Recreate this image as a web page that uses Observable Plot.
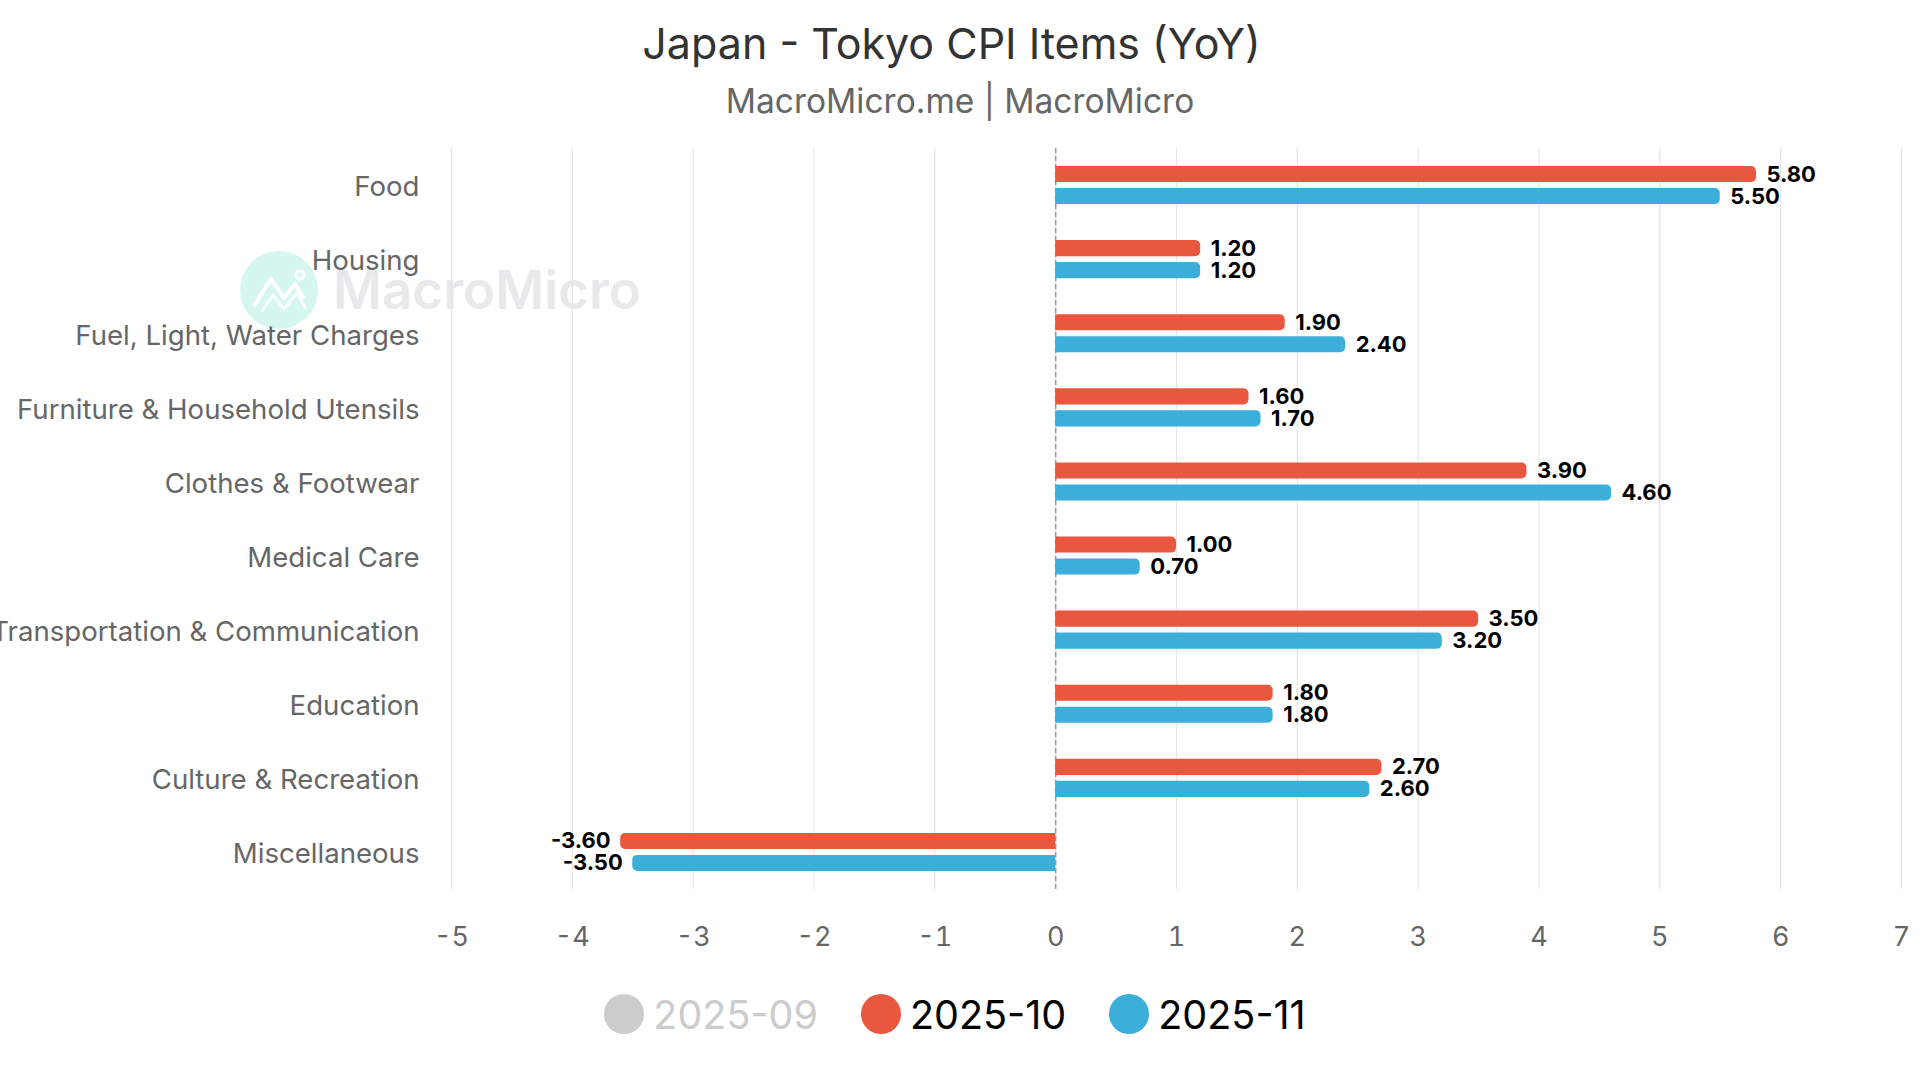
<!DOCTYPE html>
<html>
<head>
<meta charset="utf-8">
<script src="https://cdn.jsdelivr.net/npm/d3@7"></script>
<script src="https://cdn.jsdelivr.net/npm/@observablehq/plot@0.6"></script>
<style>
  html, body { margin: 0; padding: 0; background: #fff; }
  body { width: 1920px; height: 1080px; overflow: hidden; position: relative; font-family: Inter, "Noto Sans", sans-serif; }
  #title { position: absolute; left: 0; width: 1903px; top: 22px; text-align: center; font-size: 43px; line-height: 1; color: #333; }
  #subtitle { position: absolute; left: 0; width: 1920px; top: 85px; text-align: center; font-size: 33.5px; line-height: 1; color: #666; }
  #wm { position: absolute; left: 240px; top: 250px; height: 80px; display: flex; align-items: center; z-index: 0; }
  #wm .logo { width: 78px; height: 78px; border-radius: 50%; background: #d6f7ef; position: relative; }
  #wm .logo svg { position: absolute; left: 0; top: 0; }
  #wm .txt { margin-left: 15px; font-size: 53px; font-weight: 600; color: #e8e9eb; line-height: 1; }
  #chart { position: absolute; left: 0; top: 130px; z-index: 1; }
  #legend { position: absolute; left: 0; width: 1910px; top: 996px; display: flex; justify-content: center; gap: 43px; font-size: 39.5px; line-height: 1; }
  #legend .item { display: flex; align-items: center; }
  #legend .dot { width: 40px; height: 40px; border-radius: 50%; margin-right: 9px; position: relative; top: -2px; }
</style>
</head>
<body>
<div id="title">Japan - Tokyo CPI Items (YoY)</div>
<div id="subtitle">MacroMicro.me | MacroMicro</div>
<div id="wm"><div class="logo"><svg width="78" height="78" viewBox="0 0 78 78"><polyline points="14,55 31,28 44,47 55,33 64,48" fill="none" stroke="#fff" stroke-width="4" stroke-linejoin="round"/><polyline points="22,60 33,44 44,58 57,42 66,58" fill="none" stroke="#fff" stroke-width="3" stroke-linejoin="round" opacity="0.8"/><circle cx="60" cy="24" r="4" fill="none" stroke="#fff" stroke-width="3"/></svg></div><div class="txt">MacroMicro</div></div>
<div id="chart"></div>
<div id="legend"></div>
<script>
const categories = [
  "Food",
  "Housing",
  "Fuel, Light, Water Charges",
  "Furniture & Household Utensils",
  "Clothes & Footwear",
  "Medical Care",
  "Transportation & Communication",
  "Education",
  "Culture & Recreation",
  "Miscellaneous"
];
const series = ["2025-09", "2025-10", "2025-11"];
const visibleSeries = ["2025-10", "2025-11"];
const values2025_10 = [5.80, 1.20, 1.90, 1.60, 3.90, 1.00, 3.50, 1.80, 2.70, -3.60];
const values2025_11 = [5.50, 1.20, 2.40, 1.70, 4.60, 0.70, 3.20, 1.80, 2.60, -3.50];
const xTicks = [-5, -4, -3, -2, -1, 0, 1, 2, 3, 4, 5, 6, 7];
const colors = {"2025-09": "#cccccc", "2025-10": "#e9573f", "2025-11": "#3bafda"};

const rows = [];
categories.forEach((c, i) => {
  rows.push({category: c, series: "2025-10", value: values2025_10[i]});
  rows.push({category: c, series: "2025-11", value: values2025_11[i]});
});
const offset = {"2025-10": -11, "2025-11": 11};

const barMarks = [];
const labelMarks = [];
for (const s of visibleSeries) {
  barMarks.push(Plot.barX(rows, {filter: d => d.series === s && d.value >= 0, x: "value", y: "category", fill: colors[s], insetTop: 29, insetBottom: 29, dy: offset[s], rx2: 5}));
  barMarks.push(Plot.barX(rows, {filter: d => d.series === s && d.value < 0, x: "value", y: "category", fill: colors[s], insetTop: 29, insetBottom: 29, dy: offset[s], rx1: 5}));
  labelMarks.push(Plot.text(rows, {filter: d => d.series === s && d.value >= 0, x: "value", y: "category", text: d => d.value.toFixed(2), dy: offset[s], dx: 10, textAnchor: "start", fontSize: 22, fontWeight: "bold", fill: "#000"}));
  labelMarks.push(Plot.text(rows, {filter: d => d.series === s && d.value < 0, x: "value", y: "category", text: d => d.value.toFixed(2), dy: offset[s], dx: -10, textAnchor: "end", fontSize: 22, fontWeight: "bold", fill: "#000"}));
}

const chart = Plot.plot({
  width: 1920,
  height: 830,
  marginTop: 18,
  marginBottom: 71,
  marginLeft: 451,
  marginRight: 19,
  style: {background: "transparent", fontFamily: "Inter, 'Noto Sans', sans-serif", overflow: "visible"},
  x: {domain: [-5, 7], label: null},
  y: {domain: categories, padding: 0, round: false, label: null},
  marks: [
    Plot.gridX(xTicks, {stroke: "#e6e6e6", strokeOpacity: 1, strokeWidth: 1.2}),
    Plot.ruleX([0], {stroke: "#999", strokeDasharray: "5,3", strokeWidth: 1.5}),
    ...barMarks,
    ...labelMarks,
    Plot.axisX(xTicks, {tickSize: 0, tickPadding: 37, fontSize: 27, color: "#666", tickFormat: d => (d < 0 ? "-" + Math.abs(d) : String(d)), label: null}),
    Plot.axisY({tickSize: 0, tickPadding: 32, dy: 2, fontSize: 27.6, color: "#666", label: null})
  ]
});
document.getElementById("chart").appendChild(chart);

const legend = document.getElementById("legend");
for (const s of series) {
  const item = document.createElement("div");
  item.className = "item";
  const dot = document.createElement("div");
  dot.className = "dot";
  dot.style.background = colors[s];
  const label = document.createElement("span");
  label.textContent = s;
  label.style.color = s === "2025-09" ? "#cccccc" : "#000";
  item.appendChild(dot);
  item.appendChild(label);
  legend.appendChild(item);
}
</script>
</body>
</html>
